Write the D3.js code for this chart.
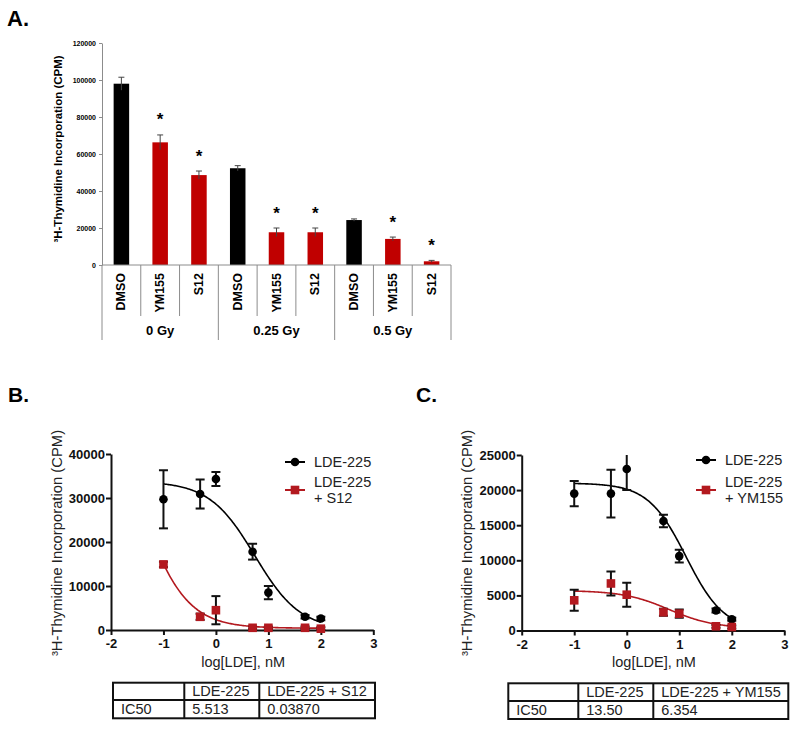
<!DOCTYPE html>
<html><head><meta charset="utf-8">
<script src="https://cdn.jsdelivr.net/npm/d3@7"></script>
<style>
body{margin:0;background:#fff}
svg{display:block}
text{font-family:"Liberation Sans",Arial,Helvetica,sans-serif}
</style>
</head><body>
<svg id="chart" width="800" height="730"></svg>
<script>
// ---------- Panel A data ----------
const aGroups = ["0 Gy", "0.25 Gy", "0.5 Gy"];
const aTreatments = ["DMSO", "YM155", "S12"];
const aValues = [98000, 66300, 48600, 52300, 17700, 17700, 24300, 14100, 2000];
const aErrors = [3500, 4000, 2200, 1400, 2300, 2300, 600, 1000, 500];
const aSignificant = [false, true, true, false, true, true, false, true, true];
const aYTicks = [0, 20000, 40000, 60000, 80000, 100000, 120000];

// ---------- Panels B / C shared ----------
const doseLog = [-1, -0.301, 0, 0.699, 1, 1.699, 2];
const xTicks = [-2, -1, 0, 1, 2, 3];

// Panel B
const bLdeMean = [29700, 30900, 34300, 17800, 8500, 3000, 2600];
const bLdeErr  = [6600, 3300, 1600, 1800, 1500, 400, 400];
const bS12Mean = [14900, 3000, 4500, 500, 500, 500, 300];
const bS12Err  = [600, 700, 3200, 300, 300, 300, 300];
const bYTicks = [0, 10000, 20000, 30000, 40000];
const bLdeFit = {top: 33800, bottom: 0, ic50: 5.513, hill: -1};
const bS12Fit = {top: 52700, bottom: 400, ic50: 0.0387, hill: -1};
const bLegend = ["LDE-225", "LDE-225", "+ S12"];
const bTableHeader = ["", "LDE-225", "LDE-225 + S12"];
const bTableRow = ["IC50", "5.513", "0.03870"];

// Panel C
const cLdeMean = [19500, 19500, 23000, 15600, 10600, 2850, 1600];
const cLdeErr  = [1800, 3400, 3000, 900, 900, 300, 200];
const cYmMean  = [4300, 6700, 5100, 2600, 2400, 600, 500];
const cYmErr   = [1500, 1700, 1700, 500, 600, 200, 200];
const cYTicks = [0, 5000, 10000, 15000, 20000, 25000];
const cLdeFit = {top: 21000, bottom: 0, ic50: 13.50, hill: -1.2};
const cYmFit  = {top: 5700, bottom: 300, ic50: 6.354, hill: -1};
const cLegend = ["LDE-225", "LDE-225", "+ YM155"];
const cTableHeader = ["", "LDE-225", "LDE-225 + YM155"];
const cTableRow = ["IC50", "13.50", "6.354"];

const yTitle = "\u00B3H-Thymidine Incorporation (CPM)";
const xTitle = "log[LDE], nM";

const svg = d3.select("#chart");
svg.append("rect").attr("width", 800).attr("height", 730).attr("fill", "#fff");

const RED_A = "#c00000";
const RED = "#b3191f";
const GRID = "#8c8c8c";

// ---------- Panel A ----------
(function () {
  const g = svg.append("g");
  g.append("text").attr("x", 7).attr("y", 26).attr("font-size", 22).attr("font-weight", "bold").text("A.");

  const cats = [];
  aGroups.forEach(gr => aTreatments.forEach(t => cats.push(gr + "|" + t)));
  const x = d3.scaleBand().domain(cats).range([102, 451]).paddingInner(0.6).paddingOuter(0.3);
  const xb = d3.scaleBand().domain(cats).range([102, 451]);
  const y = d3.scaleLinear().domain([0, 120000]).range([265, 43]);

  const ax = g.append("g").attr("transform", "translate(102,0)")
    .call(d3.axisLeft(y).tickValues(aYTicks).tickSize(3).tickPadding(3).tickSizeOuter(0).tickFormat(d3.format("d")));
  ax.select(".domain").attr("stroke", GRID);
  ax.selectAll(".tick line").attr("stroke", GRID);
  ax.selectAll(".tick text").attr("font-size", 7).attr("font-weight", "bold").attr("fill", "#000")
    .attr("font-family", "'Liberation Sans',Arial,sans-serif");

  g.append("text").attr("transform", "translate(58,149) rotate(-90)")
    .attr("text-anchor", "middle").attr("dominant-baseline", "central")
    .attr("font-size", 11.5).attr("font-weight", "bold").text(yTitle);

  // bars
  g.selectAll("rect.bar").data(aValues).join("rect")
    .attr("x", (d, i) => x(cats[i])).attr("width", x.bandwidth())
    .attr("y", d => y(d)).attr("height", d => y(0) - y(d))
    .attr("fill", (d, i) => (i % 3 === 0 ? "#000" : RED_A));

  // error bars
  aValues.forEach((v, i) => {
    const cx = x(cats[i]) + x.bandwidth() / 2;
    const e = aErrors[i];
    g.append("line").attr("x1", cx).attr("x2", cx).attr("y1", y(v + e)).attr("y2", y(v - e))
      .attr("stroke", "#444").attr("stroke-width", 1);
    g.append("line").attr("x1", cx - 3).attr("x2", cx + 3).attr("y1", y(v + e)).attr("y2", y(v + e))
      .attr("stroke", "#444").attr("stroke-width", 1);
    if (aSignificant[i]) {
      g.append("text").attr("x", cx).attr("y", y(v + e) - 19 + 9.5)
        .attr("text-anchor", "middle").attr("font-size", 17).attr("font-weight", "bold").text("*");
    }
  });

  // category table
  g.append("line").attr("x1", 102).attr("x2", 451).attr("y1", 265).attr("y2", 265).attr("stroke", GRID);
  cats.forEach((c, i) => {
    const left = xb(c);
    const isGroupEdge = i % 3 === 0;
    g.append("line").attr("x1", left).attr("x2", left).attr("y1", 265).attr("y2", isGroupEdge ? 340 : 316)
      .attr("stroke", GRID);
    const cx = left + xb.bandwidth() / 2;
    g.append("text").attr("transform", `translate(${cx},273) rotate(-90)`)
      .attr("text-anchor", "end").attr("dominant-baseline", "central")
      .attr("font-size", 12.5).attr("font-weight", "bold").text(c.split("|")[1]);
  });
  g.append("line").attr("x1", 451).attr("x2", 451).attr("y1", 265).attr("y2", 340).attr("stroke", GRID);
  aGroups.forEach((gr, gi) => {
    const left = xb(cats[gi * 3]);
    const right = xb(cats[gi * 3 + 2]) + xb.bandwidth();
    g.append("text").attr("x", (left + right) / 2).attr("y", 335).attr("text-anchor", "middle")
      .attr("font-size", 13).attr("font-weight", "bold").text(gr);
  });
})();

// ---------- Panels B / C ----------
function fourPL(p, xv) {
  return p.bottom + (p.top - p.bottom) / (1 + Math.pow(10, (Math.log10(p.ic50) - xv) * p.hill));
}

function dosePanel(o) {
  const g = svg.append("g");
  g.append("text").attr("x", o.labelX).attr("y", 402).attr("font-size", 21).attr("font-weight", "bold").text(o.label);

  const x = d3.scaleLinear().domain([-2, 3]).range([o.x0, o.x1]);
  const y = d3.scaleLinear().domain([0, o.yMax]).range([o.y0, o.y1]);

  const clipId = "clip" + o.label.replace(".", "");
  g.append("clipPath").attr("id", clipId).append("rect")
    .attr("x", o.x0).attr("y", o.y1).attr("width", o.x1 - o.x0 + 10).attr("height", o.y0 - o.y1 + 20);

  // axes
  const ay = g.append("g").attr("transform", `translate(${o.x0},0)`)
    .call(d3.axisLeft(y).tickValues(o.yTicks).tickSize(5).tickPadding(1).tickSizeOuter(0).tickFormat(d3.format("d")));
  const axx = g.append("g").attr("transform", `translate(0,${o.y0})`)
    .call(d3.axisBottom(x).tickValues(xTicks).tickSize(5).tickPadding(4).tickSizeOuter(0).tickFormat(d3.format("d")));
  [ay, axx].forEach(a => {
    a.select(".domain").attr("stroke", "#111").attr("stroke-width", 2);
    a.selectAll(".tick line").attr("stroke", "#111").attr("stroke-width", 2);
    a.selectAll(".tick text").attr("font-size", 13).attr("font-weight", "bold").attr("fill", "#111")
      .attr("font-family", "'Liberation Sans',Arial,sans-serif");
  });
  axx.selectAll(".tick text").text(d => (d < 0 ? "-" + Math.abs(d) : d));

  g.append("text").attr("transform", `translate(${o.yTitleX},543) rotate(-90)`)
    .attr("text-anchor", "middle").attr("dominant-baseline", "central")
    .attr("font-size", 14.8).attr("fill", "#222").text(yTitle);
  g.append("text").attr("x", (x(-2) + x(3)) / 2 + 1).attr("y", 667).attr("text-anchor", "middle")
    .attr("font-size", 14.5).attr("fill", "#222").text(xTitle);

  const plot = g.append("g").attr("clip-path", `url(#${clipId})`);
  const line = d3.line().x(d => x(d[0])).y(d => y(d[1]));

  o.series.forEach(s => {
    const pts = d3.range(-1, 2.0001, 0.02).map(xv => [xv, fourPL(s.fit, xv)]);
    plot.append("path").attr("d", line(pts)).attr("fill", "none")
      .attr("stroke", s.color).attr("stroke-width", 1.6);
  });
  o.series.forEach(s => {
    doseLog.forEach((xv, i) => {
      const cx = x(xv), m = s.mean[i], e = s.err[i];
      plot.append("line").attr("x1", cx).attr("x2", cx).attr("y1", y(m + e)).attr("y2", y(m - e))
        .attr("stroke", "#111").attr("stroke-width", 2);
      [m + e, m - e].forEach(v => {
        plot.append("line").attr("x1", cx - 4.5).attr("x2", cx + 4.5).attr("y1", y(v)).attr("y2", y(v))
          .attr("stroke", "#111").attr("stroke-width", 2);
      });
    });
    doseLog.forEach((xv, i) => {
      const cx = x(xv), cy = y(s.mean[i]);
      if (s.shape === "circle") {
        plot.append("circle").attr("cx", cx).attr("cy", cy).attr("r", 4.3).attr("fill", s.color);
      } else {
        plot.append("rect").attr("x", cx - 4.3).attr("y", cy - 4.3).attr("width", 8.6).attr("height", 8.6)
          .attr("fill", s.color);
      }
    });
  });

  // legend
  const L = o.legend;
  const lg = g.append("g");
  const rows = [{y: L.y1, s: o.series[0]}, {y: L.y2, s: o.series[1]}];
  rows.forEach(r => {
    lg.append("line").attr("x1", L.x).attr("x2", L.x + 20).attr("y1", r.y).attr("y2", r.y)
      .attr("stroke", r.s.color).attr("stroke-width", 2);
    if (r.s.shape === "circle") {
      lg.append("circle").attr("cx", L.x + 10).attr("cy", r.y).attr("r", 4.3).attr("fill", r.s.color);
    } else {
      lg.append("rect").attr("x", L.x + 5.7).attr("y", r.y - 4.3).attr("width", 8.6).attr("height", 8.6).attr("fill", r.s.color);
    }
  });
  lg.append("text").attr("x", L.tx).attr("y", L.y1 + 5).attr("font-size", 14.5).attr("fill", "#222").text(o.legendText[0]);
  lg.append("text").attr("x", L.tx).attr("y", L.y2 - 3.5).attr("font-size", 14.5).attr("fill", "#222").text(o.legendText[1]);
  lg.append("text").attr("x", L.tx).attr("y", L.y2 + 12.5).attr("font-size", 14.5).attr("fill", "#222").text(o.legendText[2]);

  // table
  const T = o.table;
  const tg = g.append("g");
  tg.append("rect").attr("x", T.x0).attr("y", T.y0).attr("width", T.x3 - T.x0).attr("height", T.y2 - T.y0)
    .attr("fill", "none").attr("stroke", "#111").attr("stroke-width", 2);
  tg.append("line").attr("x1", T.x0).attr("x2", T.x3).attr("y1", T.y1).attr("y2", T.y1).attr("stroke", "#111").attr("stroke-width", 2);
  [T.x1, T.x2].forEach(xx => tg.append("line").attr("x1", xx).attr("x2", xx).attr("y1", T.y0).attr("y2", T.y2)
    .attr("stroke", "#111").attr("stroke-width", 2));
  const colX = [T.x0, T.x1, T.x2];
  o.tableHeader.forEach((t, i) => tg.append("text").attr("x", colX[i] + 8).attr("y", T.y1 - 4)
    .attr("font-size", 14.5).attr("fill", "#222").text(t));
  o.tableRow.forEach((t, i) => tg.append("text").attr("x", colX[i] + 8).attr("y", T.y2 - 4)
    .attr("font-size", 14.5).attr("fill", "#222").text(t));
}

dosePanel({
  label: "B.", labelX: 8,
  x0: 111, x1: 373.3, y0: 630, y1: 454, yMax: 40000, yTicks: bYTicks, yTitleX: 57,
  series: [
    {mean: bLdeMean, err: bLdeErr, fit: bLdeFit, color: "#000", shape: "circle"},
    {mean: bS12Mean, err: bS12Err, fit: bS12Fit, color: RED, shape: "square"}
  ],
  legend: {x: 285, tx: 314, y1: 462, y2: 490},
  legendText: bLegend,
  table: {x0: 113, x1: 184.3, x2: 259.3, x3: 375, y0: 682.7, y1: 700, y2: 718.3},
  tableHeader: bTableHeader, tableRow: bTableRow
});

dosePanel({
  label: "C.", labelX: 416,
  x0: 521.7, x1: 784.3, y0: 630.5, y1: 455, yMax: 25000, yTicks: cYTicks, yTitleX: 467,
  series: [
    {mean: cLdeMean, err: cLdeErr, fit: cLdeFit, color: "#000", shape: "circle"},
    {mean: cYmMean, err: cYmErr, fit: cYmFit, color: RED, shape: "square"}
  ],
  legend: {x: 696, tx: 725, y1: 460, y2: 490},
  legendText: cLegend,
  table: {x0: 508.3, x1: 578.3, x2: 653.3, x3: 788.3, y0: 683.3, y1: 701, y2: 719},
  tableHeader: cTableHeader, tableRow: cTableRow
});
</script>
</body></html>
